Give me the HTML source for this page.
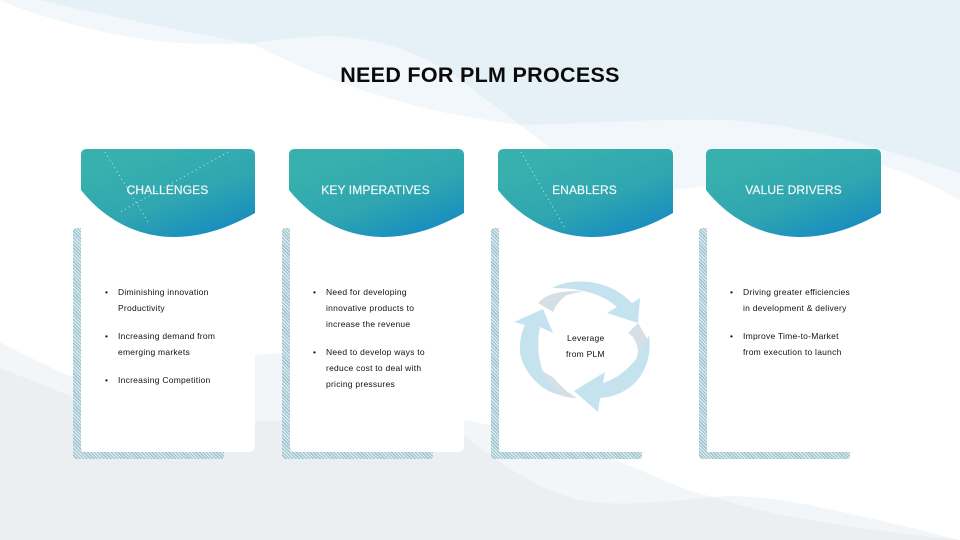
<!DOCTYPE html>
<html><head><meta charset="utf-8"><style>
html,body{margin:0;padding:0}
#p{position:relative;width:960px;height:540px;overflow:hidden;background:#fff;font-family:"Liberation Sans",sans-serif}
.a{position:absolute}
.t{position:absolute;font-size:8.5px;line-height:16px;height:16px;color:#111;letter-spacing:.25px;white-space:nowrap}
.h{position:absolute;top:183px;font-size:12px;line-height:15px;color:#f2f8f9;text-align:center;width:175px;letter-spacing:.1px;-webkit-text-stroke:.2px #f2f8f9}
.hat{position:absolute;background:repeating-linear-gradient(45deg,#9cc2cd 0 1.2px,#dcebef 1.2px 2.4px)}
.body{position:absolute;top:225px;width:174px;height:227px;background:#fff;border-radius:0 0 6px 6px}
</style></head><body><div id="p">
<svg class="a" style="left:0;top:0" width="960" height="540" viewBox="0 0 960 540">
<path d="M0 0C30 14 100 35 167 42C200 45 230 44 253 44C290 62 340 88 433 110C460 116 500 122 520 125L550 148C580 170 620 190 660 190C700 190 800 170 881 165C900 170 930 183 960 200V0Z" fill="#f1f7fa"/>
<path d="M40 0C100 15 180 30 250 44C280 38 320 35 345 37C400 42 445 65 480 95C495 106 510 116 520 125C580 124 660 118 727 120C800 124 880 148 960 173V0Z" fill="#e6f1f7"/>
<path d="M0 342C25 355 50 368 73 377L255 355L282 353L370 352L464 420C520 430 580 445 620 462C650 473 680 490 713 497C740 494 780 498 847 513C880 520 920 530 960 540H0Z" fill="#f3f6f8"/>
<path d="M0 368L73 397L255 421L440 422C460 430 470 440 480 448C510 470 540 488 563 495C590 506 630 506 713 497C760 514 860 530 960 540H0Z" fill="#ebeff2"/>
<defs>
<linearGradient id="g" x1="0.25" y1="0.15" x2="0.85" y2="1"><stop offset="0" stop-color="#37b0ae"/><stop offset=".5" stop-color="#2fa6b0"/><stop offset="1" stop-color="#1489c2"/></linearGradient>
</defs>
</svg>
<div class="hat" style="left:73px;top:228px;width:8px;height:231px;border-radius:3px 0 0 3px"></div>
<div class="hat" style="left:73px;top:452px;width:151px;height:7px;border-radius:0 0 3px 3px"></div>
<div class="hat" style="left:282px;top:228px;width:8px;height:231px;border-radius:3px 0 0 3px"></div>
<div class="hat" style="left:282px;top:452px;width:151px;height:7px;border-radius:0 0 3px 3px"></div>
<div class="hat" style="left:491px;top:228px;width:8px;height:231px;border-radius:3px 0 0 3px"></div>
<div class="hat" style="left:491px;top:452px;width:151px;height:7px;border-radius:0 0 3px 3px"></div>
<div class="hat" style="left:699px;top:228px;width:8px;height:231px;border-radius:3px 0 0 3px"></div>
<div class="hat" style="left:699px;top:452px;width:151px;height:7px;border-radius:0 0 3px 3px"></div>
<div class="body" style="left:81px"></div>
<div class="body" style="left:290px"></div>
<div class="body" style="left:499px"></div>
<div class="body" style="left:707px"></div>
<svg class="a" style="left:0;top:0" width="960" height="540" viewBox="0 0 960 540">
<g fill="url(#g)">
<path d="M81 155Q81 149 87 149H249Q255 149 255 155V213C225 230 198 237 174 237C143 237 108 224 81 190Z"/>
<path d="M289 155Q289 149 295 149H458Q464 149 464 155V213C434 230 407 237 383 237C352 237 316 224 289 190Z"/>
<path d="M498 155Q498 149 504 149H667Q673 149 673 155V213C643 230 616 237 592 237C561 237 525 224 498 190Z"/>
<path d="M706 155Q706 149 712 149H875Q881 149 881 155V213C851 230 824 237 800 237C769 237 733 224 706 190Z"/>
</g>
<g stroke="#fff" stroke-width=".8" stroke-dasharray="1 3.5" fill="none" opacity=".9">
<path d="M105 152L150 225M228 152L120 212"/>
<path d="M521 152L566 230"/>
</g>
<g fill="#d5dfe6">
<path d="M538 303C545 296 551 294 557 293C565 291 575 291 583 291C575 293 567 295 567 295C562 298 557 303 553 312Z"/>
<path d="M638 323L648 340C648 347 646 352 643 357C640 361 636 364 632 367C636 361 638 355 638 350C637 344 635 340 633 337L628 333Z"/>
<path d="M542 370C545 373 549 375 553 377C560 386 568 393 577 398C571 398 565 397 560 395C555 393 551 389 547 385C545 380 543 375 542 370Z"/>
</g>
<g fill="#c5e3ee">
<path d="M552 288C575 276 610 280 632 303L640 298L638 323L607 313L617 307C605 296 585 288 552 288Z"/>
<path d="M649 335C654 370 632 396 600 398L598 412L574 391L605 372L603 383C622 377 640 360 649 335Z"/>
<path d="M514 322L543 309L553 333L540 327C535 350 540 380 560 395C535 390 518 362 520 347C520 338 522 331 525 325Z"/>
</g>
</svg>
<div class="a" style="left:300px;top:63px;width:360px;text-align:center;font-size:21.5px;line-height:24px;font-weight:bold;letter-spacing:.3px;color:#0a0a0a;white-space:nowrap">NEED FOR PLM PROCESS</div>
<div class="h" style="left:80px">CHALLENGES</div>
<div class="h" style="left:288px">KEY IMPERATIVES</div>
<div class="h" style="left:497px">ENABLERS</div>
<div class="h" style="left:706px">VALUE DRIVERS</div>

<div class="t" style="left:105px;top:284px">•</div>
<div class="t" style="left:118px;top:284px">Diminishing innovation</div>
<div class="t" style="left:118px;top:300px">Productivity</div>
<div class="t" style="left:105px;top:328px">•</div>
<div class="t" style="left:118px;top:328px">Increasing demand from</div>
<div class="t" style="left:118px;top:344px">emerging markets</div>
<div class="t" style="left:105px;top:372px">•</div>
<div class="t" style="left:118px;top:372px">Increasing Competition</div>

<div class="t" style="left:313px;top:284px">•</div>
<div class="t" style="left:326px;top:284px">Need for developing</div>
<div class="t" style="left:326px;top:300px">innovative products to</div>
<div class="t" style="left:326px;top:316px">increase the revenue</div>
<div class="t" style="left:313px;top:344px">•</div>
<div class="t" style="left:326px;top:344px">Need to develop ways to</div>
<div class="t" style="left:326px;top:360px">reduce cost to deal with</div>
<div class="t" style="left:326px;top:376px">pricing pressures</div>

<div class="t" style="left:567px;top:330px">Leverage</div>
<div class="t" style="left:566px;top:346px">from PLM</div>

<div class="t" style="left:730px;top:284px">•</div>
<div class="t" style="left:743px;top:284px">Driving greater efficiencies</div>
<div class="t" style="left:743px;top:300px">in development &amp; delivery</div>
<div class="t" style="left:730px;top:328px">•</div>
<div class="t" style="left:743px;top:328px">Improve Time-to-Market</div>
<div class="t" style="left:743px;top:344px">from execution to launch</div>
</div></body></html>
